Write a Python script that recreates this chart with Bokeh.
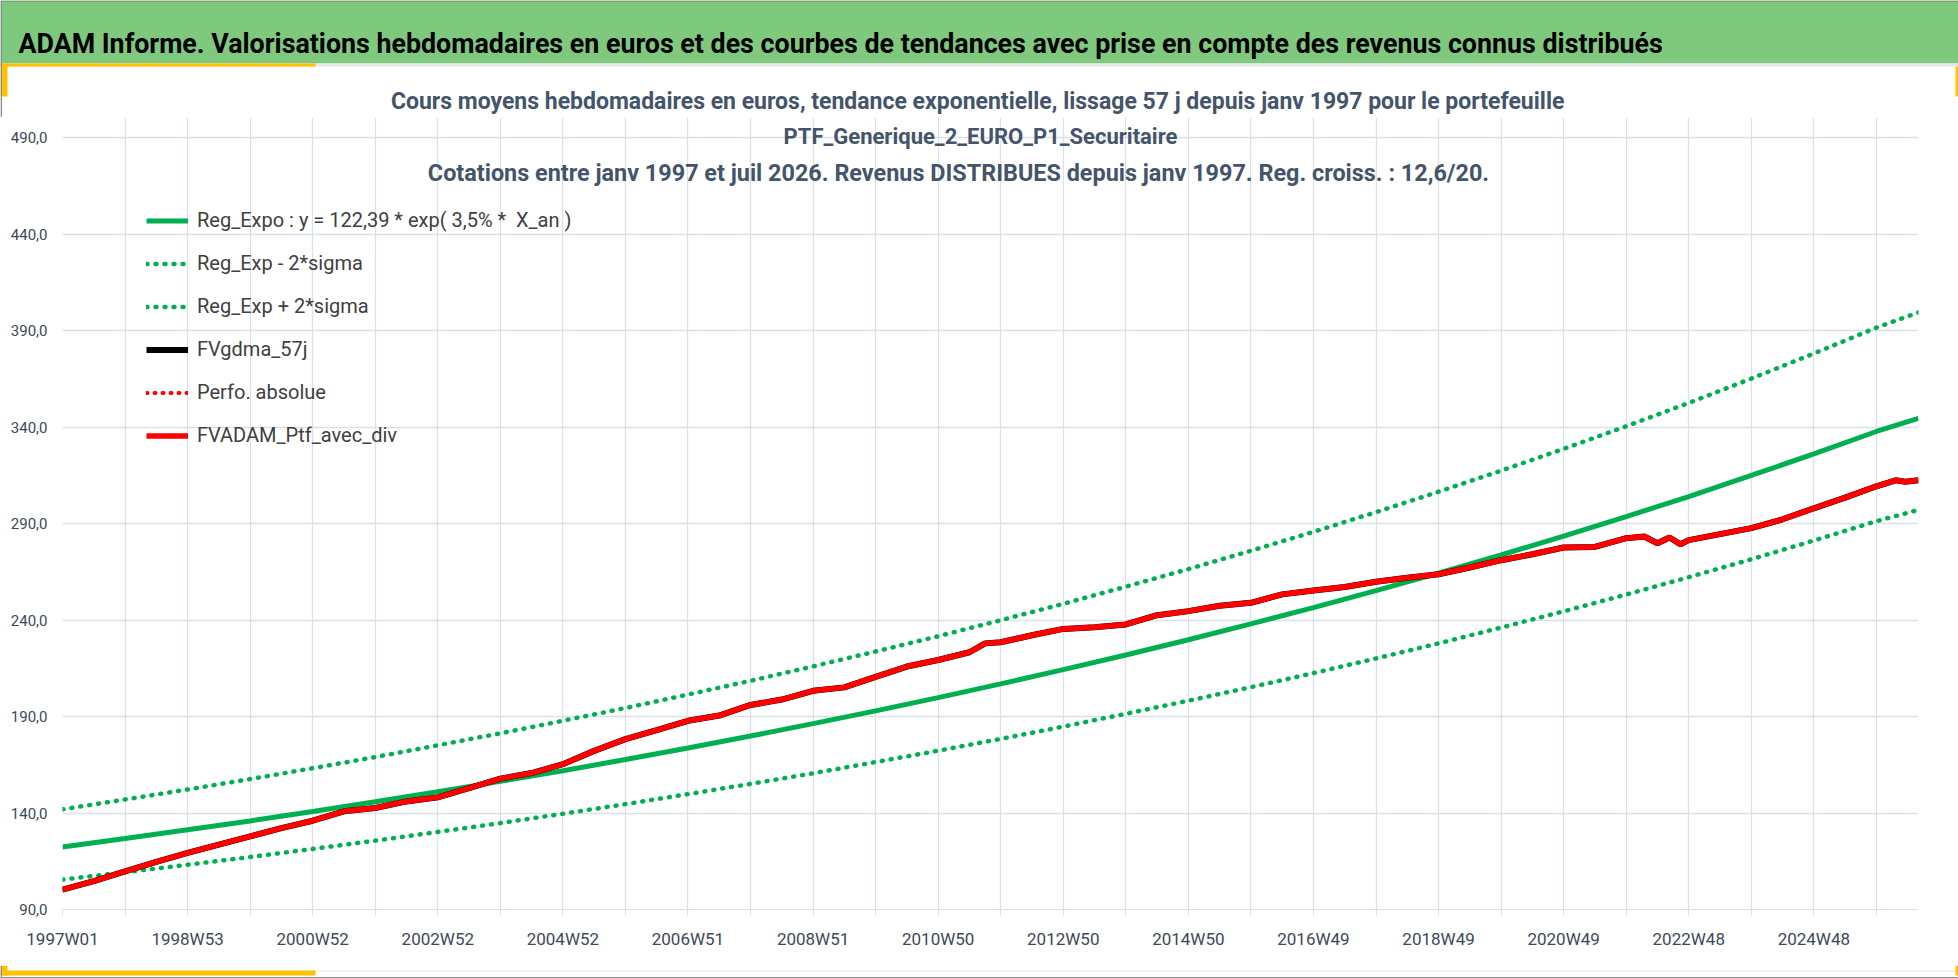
from bokeh.plotting import figure
from bokeh.layouts import column
from bokeh.models import FixedTicker, Label, BoxAnnotation, Legend, LegendItem, Range1d, ColumnDataSource
from bokeh.embed import file_html
from bokeh.resources import INLINE

# ---------------- data ----------------
week_labels = ["1997W01", "1998W53", "2000W52", "2002W52", "2004W52", "2006W51", "2008W51",
               "2010W50", "2012W50", "2014W50", "2016W49", "2018W49", "2020W49", "2022W48", "2024W48"]
label_idx = [0, 104, 208, 312, 416, 520, 624, 728, 832, 936, 1040, 1144, 1248, 1352, 1456]
grid_idx = [0, 52, 104, 156, 208, 260, 312, 364, 416, 468, 520, 572, 624, 676, 728, 780,
            832, 884, 936, 988, 1040, 1092, 1144, 1196, 1248, 1300, 1352, 1404, 1456, 1508]
last_idx = 1543

y_ticks = [90, 140, 190, 240, 290, 340, 390, 440, 490]
y_tick_labels = ["90,0", "140,0", "190,0", "240,0", "290,0", "340,0", "390,0", "440,0", "490,0"]

trend_idx = [0, 52, 104, 156, 208, 260, 312, 364, 416, 468, 520, 572, 624, 676, 728, 780,
             832, 884, 936, 988, 1040, 1092, 1144, 1196, 1248, 1300, 1352, 1404, 1456, 1508, 1543]
reg_expo = [122.4, 126.8, 131.3, 135.9, 140.8, 145.8, 151.0, 156.4, 161.9, 167.7, 173.7, 179.9,
            186.3, 192.9, 199.8, 206.9, 214.3, 221.9, 229.8, 238.0, 246.4, 255.2, 264.3, 273.7,
            283.5, 293.6, 304.0, 314.9, 326.1, 337.7, 344.5]
reg_plus = [141.9, 147.0, 152.2, 157.6, 163.2, 169.0, 175.1, 181.3, 187.8, 194.4, 201.4, 208.5,
            216.0, 223.7, 231.6, 239.9, 248.4, 257.3, 266.4, 275.9, 285.7, 295.9, 306.5, 317.4,
            328.7, 340.4, 352.5, 365.1, 378.1, 391.5, 399.4]
reg_minus = [105.5, 109.3, 113.2, 117.2, 121.4, 125.7, 130.2, 134.8, 139.6, 144.6, 149.8, 155.1,
             160.6, 166.4, 172.3, 178.4, 184.8, 191.4, 198.2, 205.2, 212.5, 220.1, 227.9, 236.1,
             244.5, 253.2, 262.2, 271.5, 281.2, 291.2, 297.1]

ptf_idx = [0, 26, 52, 78, 104, 130, 156, 182, 208, 234, 260, 286, 312, 338, 364, 390, 416, 442,
           468, 494, 520, 546, 572, 598, 624, 650, 676, 702, 728, 754, 767, 780, 806, 832, 858,
           884, 910, 936, 962, 988, 1014, 1040, 1066, 1092, 1118, 1144, 1170, 1196, 1222, 1248,
           1274, 1300, 1315, 1326, 1336, 1345, 1352, 1378, 1404, 1430, 1456, 1482, 1508, 1524,
           1532, 1543]
ptf_avec_div = [100.3, 104.7, 109.8, 114.7, 119.3, 123.6, 127.9, 132.2, 136.0, 140.9, 142.6,
                146.0, 148.1, 152.9, 157.8, 160.7, 165.3, 172.2, 178.3, 182.9, 187.8, 190.5,
                196.0, 198.8, 203.3, 205.1, 210.5, 215.9, 219.3, 223.3, 227.9, 228.5, 232.1,
                235.4, 236.3, 237.7, 242.5, 244.6, 247.4, 248.9, 253.3, 255.3, 257.1, 259.8,
                261.9, 263.7, 267.2, 271.0, 274.1, 277.6, 277.9, 282.4, 283.3, 279.8, 282.8,
                279.3, 281.4, 284.5, 287.6, 292.2, 297.9, 303.4, 309.3, 312.4, 311.7, 312.4]
fvgdma_57j = ptf_avec_div
perfo_absolue = ptf_avec_div

header_text = ("ADAM Informe. Valorisations hebdomadaires en euros et des courbes de tendances "
               "avec prise en compte des revenus connus distribués")
title_lines = [
    "Cours moyens hebdomadaires  en euros, tendance exponentielle, lissage 57 j depuis janv 1997 pour le portefeuille",
    "PTF_Generique_2_EURO_P1_Securitaire",
    "Cotations entre janv 1997 et juil 2026. Revenus DISTRIBUES depuis janv 1997. Reg. croiss. : 12,6/20.",
]
legend_labels = ["Reg_Expo : y = 122,39 * exp( 3,5% *  X_an )", "Reg_Exp - 2*sigma",
                 "Reg_Exp + 2*sigma", "FVgdma_57j", "Perfo. absolue", "FVADAM_Ptf_avec_div"]

# ---------------- layout / style ----------------
FONT = "Roboto"
W = 1958
HEAD_H = 117          # header strip (page y 0..117)
MAIN_H = 848          # main chart (page y 117..965)
FOOT_H = 978 - HEAD_H - MAIN_H
FL, FR = 62, 1918     # plot area left/right (page px)
FT, FB = 117, 909     # plot area top/bottom (page px)
X0, X1, Y0, Y1 = 0, last_idx, 90, 500.4
GREEN = "#00B050"
RED = "#FF0000"
GRID = "#DCE0E8"
HEADER_GREEN = "#7FC97F"
YELLOW = "#FFC000"
TITLE_COL = "#44546A"
TICK_COL = "#404858"


def dx(px):
    return X0 + (px - FL) * (X1 - X0) / (FR - FL)


def dy(py):
    return Y0 + (FB - py) * (Y1 - Y0) / (FB - FT)


def strip(height, y_start):
    f = figure(width=W, height=height, x_range=Range1d(0, W),
               y_range=Range1d(y_start + height, y_start),
               x_axis_type=None, y_axis_type=None, output_backend="svg", toolbar_location=None,
               min_border=0, outline_line_color=None, background_fill_color="white",
               border_fill_color="white", frame_align=False)
    f.title.text = ""
    f.grid.visible = False
    return f


def box(f, l, r, t, b, color):
    f.add_layout(BoxAnnotation(left=l, right=r, top=t, bottom=b,
                               fill_color=color, fill_alpha=1.0, line_color=None))


# ---- header strip ----
head = strip(HEAD_H, 0)
box(head, 0, W, 0, 63, HEADER_GREEN)
box(head, 0, W, 0, 1.5, "#7A9A7A")
box(head, 0, W, 63, 66, "#E4E7EC")
box(head, 0, 315, 63, 66, YELLOW)
box(head, 0, 7, 63, 96, YELLOW)
box(head, W - 3, W, 66, 96, YELLOW)
box(head, 0, 1.5, 0, HEAD_H, "#8C8C8C")
head.add_layout(Label(x=18, y=43, text=header_text, text_align="left",
                      text_baseline="alphabetic", text_font=FONT, text_font_style="bold",
                      text_font_size="26.8px", text_color="#000000"))
head.add_layout(Label(x=980, y=101, text=title_lines[0], text_align="center",
                      text_baseline="middle", text_font=FONT, text_font_style="bold",
                      text_font_size="23px", text_color=TITLE_COL))

# ---- main chart ----
p = figure(width=W, height=MAIN_H, x_range=Range1d(X0, X1), y_range=Range1d(Y0, Y1),
           output_backend="svg", toolbar_location=None, frame_align=False,
           min_border_left=FL, min_border_right=W - FR, min_border_top=FT - HEAD_H,
           min_border_bottom=HEAD_H + MAIN_H - FB,
           background_fill_color="white", border_fill_color="white", outline_line_color=None)
p.title.text = ""

xa = p.xaxis[0]
xa.ticker = FixedTicker(ticks=label_idx, minor_ticks=grid_idx)
xa.major_label_overrides = {i: lab for i, lab in zip(label_idx, week_labels)}
xa.axis_line_color = GRID
xa.major_tick_line_color = GRID
xa.minor_tick_line_color = GRID
xa.major_tick_in = 0
xa.major_tick_out = 6
xa.minor_tick_in = 0
xa.minor_tick_out = 6
xa.major_label_standoff = 13
xa.major_label_text_font = FONT
xa.major_label_text_font_size = "17px"
xa.major_label_text_color = TICK_COL

ya = p.yaxis[0]
ya.ticker = FixedTicker(ticks=y_ticks)
ya.major_label_overrides = {t: lab for t, lab in zip(y_ticks, y_tick_labels)}
ya.axis_line_color = None
ya.major_tick_line_color = None
ya.minor_tick_line_color = None
ya.major_tick_out = 0
ya.major_tick_in = 0
ya.major_label_standoff = 15
ya.major_label_text_font = FONT
ya.major_label_text_font_size = "15px"
ya.major_label_text_color = TICK_COL

p.xgrid.ticker = FixedTicker(ticks=grid_idx)
p.ygrid.ticker = FixedTicker(ticks=y_ticks)
p.xgrid.grid_line_color = GRID
p.ygrid.grid_line_color = GRID
p.xgrid.grid_line_width = 1.3
p.ygrid.grid_line_width = 1.3

trend_src = ColumnDataSource(dict(x=trend_idx, reg=reg_expo, up=reg_plus, lo=reg_minus))
ptf_src = ColumnDataSource(dict(x=ptf_idx, ptf=ptf_avec_div, gdma=fvgdma_57j, perfo=perfo_absolue))

r_reg = p.line("x", "reg", source=trend_src, line_color=GREEN, line_width=5)
r_lo = p.line("x", "lo", source=trend_src, line_color=GREEN, line_width=4.5,
              line_dash="1 8", line_cap="round")
r_up = p.line("x", "up", source=trend_src, line_color=GREEN, line_width=4.5,
              line_dash="1 8", line_cap="round")
r_gdma = p.line("x", "gdma", source=ptf_src, line_color="#000000", line_width=6)
r_perfo = p.line("x", "perfo", source=ptf_src, line_color=RED, line_width=4,
                 line_dash="1 7", line_cap="round")
r_ptf = p.line("x", "ptf", source=ptf_src, line_color=RED, line_width=5.5)

# legend: rows centred at page y 220 .. 435 (pitch 43), glyph starting at page x 146
LEG_ITEM_H, LEG_SPACING = 25, 18
leg_h = 6 * LEG_ITEM_H + 5 * LEG_SPACING
leg_top = 220 - LEG_ITEM_H / 2
legend = Legend(items=[LegendItem(label=legend_labels[0], renderers=[r_reg]),
                       LegendItem(label=legend_labels[1], renderers=[r_lo]),
                       LegendItem(label=legend_labels[2], renderers=[r_up]),
                       LegendItem(label=legend_labels[3], renderers=[r_gdma]),
                       LegendItem(label=legend_labels[4], renderers=[r_perfo]),
                       LegendItem(label=legend_labels[5], renderers=[r_ptf])],
                location=(146 - FL, FB - (leg_top + leg_h)), orientation="vertical",
                background_fill_alpha=0, border_line_color=None,
                padding=0, margin=0, spacing=LEG_SPACING, glyph_width=42,
                glyph_height=LEG_ITEM_H, label_height=LEG_ITEM_H, label_standoff=9,
                label_text_font=FONT, label_text_font_size="20px", label_text_color="#404040")
p.add_layout(legend)

for xpix, ypix, size, line in zip([980, 958], [136, 172], ["22px", "23.4px"], title_lines[1:]):
    p.add_layout(Label(x=dx(xpix), y=dy(ypix), text=line, text_align="center",
                       text_baseline="middle", text_font=FONT, text_font_style="bold",
                       text_font_size=size, text_color=TITLE_COL))

# ---- footer strip ----
foot = strip(FOOT_H, HEAD_H + MAIN_H)
y0f = HEAD_H + MAIN_H
box(foot, 315, W - 3, 970, 971, "#E4E7EC")
box(foot, 0, 315, 970, 975, YELLOW)
box(foot, 0, 7, y0f, 975, YELLOW)
box(foot, W - 3, W, y0f, 975, YELLOW)
box(foot, 0, W, 976.5, 978, "#8C8C8C")
box(foot, 0, 1.5, y0f, 978, "#8C8C8C")

layout = column(head, p, foot, spacing=0)
open("out.html", "w").write(file_html(layout, INLINE))
